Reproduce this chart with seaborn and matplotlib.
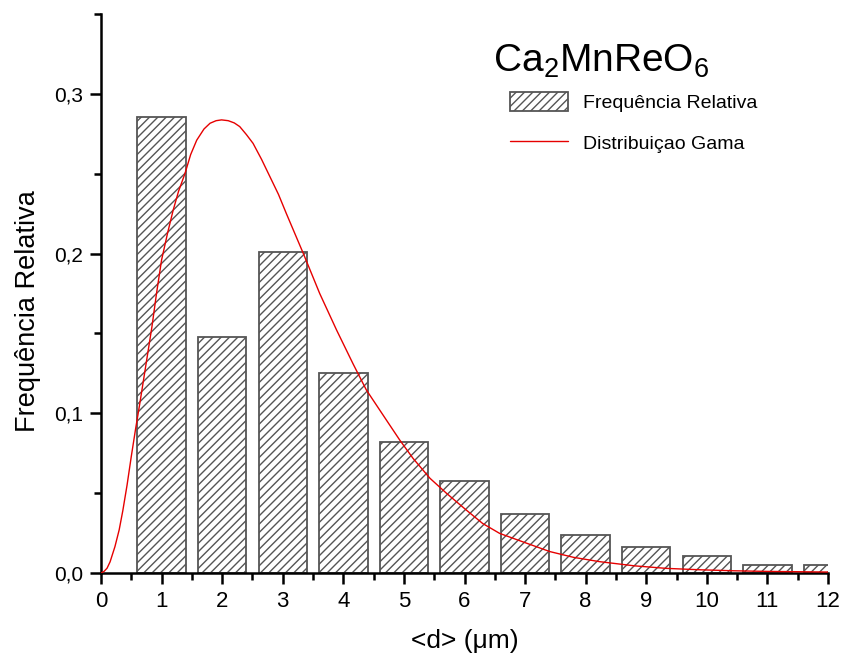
import matplotlib
matplotlib.use("Agg")
import matplotlib.pyplot as plt
import seaborn as sns
import pandas as pd
from matplotlib.ticker import MultipleLocator, FuncFormatter
from matplotlib.patches import Patch
from matplotlib.lines import Line2D

# ---- data ----
bin_centers = [1, 2, 3, 4, 5, 6, 7, 8, 9, 10, 11, 12]
rel_freq = [0.2855, 0.1478, 0.201, 0.125, 0.082, 0.0576, 0.037, 0.0238,
            0.0163, 0.0106, 0.005, 0.005]

gamma_x = [0, 0.05, 0.1, 0.15, 0.23, 0.3, 0.36, 0.43, 0.50, 0.57, 0.64, 0.74,
           0.84, 0.92, 1.0, 1.1, 1.19, 1.28, 1.385, 1.48, 1.58, 1.7, 1.80,
           1.9, 1.99, 2.1, 2.2, 2.29, 2.4, 2.51, 2.65, 2.79, 2.93, 3.06,
           3.34, 3.61, 3.89, 4.16, 4.38, 4.71, 4.93, 5.15, 5.43, 5.7, 6.03,
           6.3, 6.58, 7.0, 7.41, 7.8, 8.23, 8.8, 9.33, 9.9, 10.43, 11.0, 12]
gamma_y = [0, 0.001, 0.003, 0.007, 0.0165, 0.027, 0.039, 0.055, 0.073, 0.09,
           0.106, 0.13, 0.154, 0.176, 0.196, 0.213, 0.227, 0.239, 0.250,
           0.262, 0.271, 0.278, 0.2816, 0.2832, 0.2837, 0.2832, 0.2818,
           0.2795, 0.2745, 0.269, 0.259, 0.248, 0.237, 0.225, 0.200, 0.175,
           0.152, 0.131, 0.1146, 0.0958, 0.0833, 0.0718, 0.0593, 0.050,
           0.0394, 0.031, 0.0248, 0.019, 0.0134, 0.0098, 0.0071, 0.0045,
           0.0029, 0.002, 0.0014, 0.001, 0.0006]

title_text = "Ca$\\mathregular{_2}$MnReO$\\mathregular{_6}$"
legend_labels = ["Frequência Relativa", "Distribuiçao Gama"]
xlabel = "<d> (μm)"
ylabel = "Frequência Relativa"

sns.set_theme(style="white")
plt.rcParams['font.family'] = ['Liberation Sans', 'DejaVu Sans']
plt.rcParams['hatch.linewidth'] = 1.0
plt.rcParams['hatch.color'] = 'black'
plt.rcParams['text.color'] = 'black'
plt.rcParams['axes.labelcolor'] = 'black'

fig = plt.figure(figsize=(8.44, 6.57), dpi=100)
ax = fig.add_axes([101/844, 84/657, 727/844, 559/657])

df_bars = pd.DataFrame({"d": bin_centers, "f": rel_freq})
df_line = pd.DataFrame({"d": gamma_x, "f": gamma_y})

sns.barplot(data=df_bars, x="d", y="f", native_scale=True, width=0.8,
            color="white", edgecolor="#555555", linewidth=1.3, ax=ax,
            errorbar=None, zorder=2)
for p in ax.patches:
    p.set_hatch("////")
    p.set_facecolor("white")

sns.lineplot(data=df_line, x="d", y="f", color="#e60000", linewidth=1.0,
             ax=ax, zorder=3)

ax.set_xlim(0, 12)
ax.set_ylim(0, 0.35)
ax.xaxis.set_major_locator(MultipleLocator(1))
ax.xaxis.set_minor_locator(MultipleLocator(0.5))
ax.yaxis.set_major_locator(MultipleLocator(0.1))
ax.yaxis.set_minor_locator(MultipleLocator(0.05))
ax.yaxis.set_major_formatter(FuncFormatter(lambda v, pos: f"{v:.1f}".replace(".", ",")))
ax.xaxis.set_major_formatter(FuncFormatter(lambda v, pos: f"{int(round(v))}"))

for s in ["top", "right"]:
    ax.spines[s].set_visible(False)
for s in ["left", "bottom"]:
    ax.spines[s].set_linewidth(1.8)
    ax.spines[s].set_color("black")

ax.tick_params(axis="both", which="major", direction="out", length=8, width=1.8,
               color="black", labelcolor="black", bottom=True, left=True)
ax.tick_params(axis="both", which="minor", direction="out", length=5, width=1.8,
               color="black", bottom=True, left=True)
ax.tick_params(axis="x", which="major", labelsize=16, pad=5)
ax.tick_params(axis="y", which="major", labelsize=15, pad=5)

ax.set_xlabel(xlabel, fontsize=19, labelpad=12)
ax.set_ylabel(ylabel, fontsize=19.5)
ax.yaxis.set_label_coords(-0.082, 0.469)

ax.text(6.47, 0.314, title_text, fontsize=28, ha="left", va="baseline")

handles = [Patch(facecolor="white", edgecolor="#555555", hatch="////", linewidth=1.3),
           Line2D([0], [0], color="#e60000", linewidth=1.0)]
ax.legend(handles, legend_labels, loc="upper left",
          bbox_to_anchor=(0.5626, 0.8605), frameon=False, fontsize=14,
          handlelength=3.0, handleheight=1.1, handletextpad=0.75,
          labelspacing=1.1, borderpad=0, borderaxespad=0)

ax.grid(False)
fig.savefig("out.png", dpi=100)
